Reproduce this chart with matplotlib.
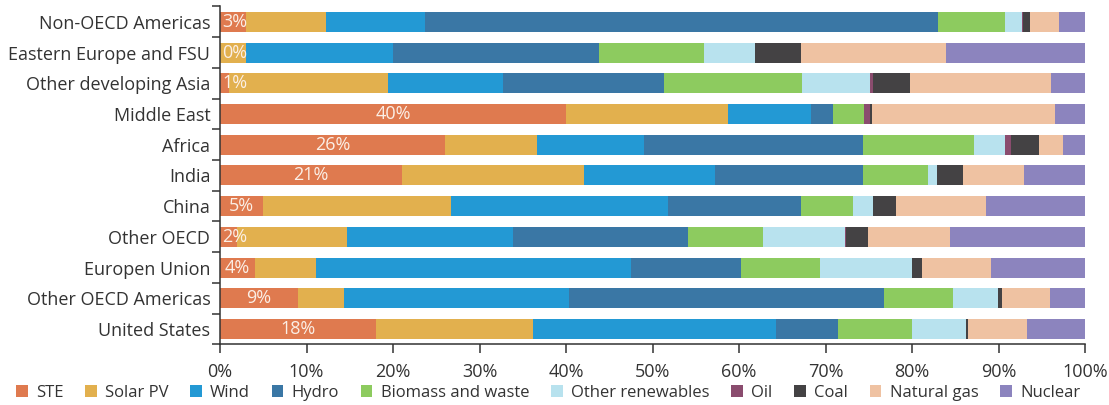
import numpy as np
import matplotlib
matplotlib.use("Agg")
import matplotlib.pyplot as plt
from matplotlib.patches import Patch

plt.rcParams['font.family'] = ['Open Sans', 'DejaVu Sans']

regions = ["Non-OECD Americas", "Eastern Europe and FSU", "Other developing Asia",
           "Middle East", "Africa", "India", "China", "Other OECD",
           "Europen Union", "Other OECD Americas", "United States"]

sources = ["STE", "Solar PV", "Wind", "Hydro", "Biomass and waste",
           "Other renewables", "Oil", "Coal", "Natural gas", "Nuclear"]

# share of each source per region (%), same order as regions
ste       = [3,    0,    1,    40,   26,   21,   5,    2,    4,    9,    18]
solar_pv  = [9.2,  3.0,  18.4, 18.7, 10.6, 21.1, 21.7, 12.7, 7.1,  5.3,  18.2]
wind      = [11.5, 17.0, 13.3, 9.6,  12.4, 15.1, 25.1, 19.2, 36.4, 26.0, 28.1]
hydro     = [59.3, 23.8, 18.6, 2.6,  25.3, 17.1, 15.4, 20.2, 12.7, 36.5, 7.2]
biomass   = [7.8,  12.2, 16.0, 3.5,  12.9, 7.6,  6.0,  8.7,  9.2,  7.9,  8.5]
other_ren = [1.9,  5.9,  7.9,  0.1,  3.6,  1.0,  2.3,  9.5,  10.6, 5.2,  6.3]
oil       = [0.1,  0,    0.3,  0.6,  0.6,  0,    0,    0.1,  0,    0,    0]
coal      = [0.8,  5.3,  4.3,  0.3,  3.3,  3.0,  2.6,  2.5,  1.2,  0.5,  0.2]
gas       = [3.4,  16.7, 16.3, 21.1, 2.7,  7.0,  10.4, 9.5,  7.9,  5.6,  6.8]
nuclear   = [3.0,  16.1, 3.9,  3.5,  2.6,  7.1,  11.5, 15.6, 10.9, 4.0,  6.7]

series = [ste, solar_pv, wind, hydro, biomass, other_ren, oil, coal, gas, nuclear]
colors = ['#DF7A4F', '#E2B04E', '#2399D4', '#3A77A5', '#8DCB5F',
          '#B8E2EE', '#8A4C6E', '#444244', '#EFC2A2', '#8C84BE']

txt = '#333333'

fig = plt.figure(figsize=(11.09, 4.05), dpi=100)
ax = fig.add_axes([220/1109, 1 - 344.3/405, 865/1109, 337.8/405])

y = np.arange(len(regions))
left = np.zeros(len(regions))
for vals, col in zip(series, colors):
    vals = np.array(vals, dtype=float)
    ax.barh(y, vals, left=left, height=0.65, color=col, edgecolor='none')
    left += vals

# STE share written on the first segment
for i, v in enumerate(ste):
    if v >= 4:
        ax.text(v / 2, i, f"{v}%", ha='center', va='center',
                color='#FBEFE6', fontsize=13)
    else:
        ax.text(0.3, i, f"{v}%", ha='left', va='center',
                color='#FBEFE6', fontsize=13)

ax.set_xlim(0, 100)
ax.set_ylim(len(regions) - 0.5, -0.5)
ax.set_xticks(np.arange(0, 101, 10))
ax.set_xticklabels([f"{v}%" for v in range(0, 101, 10)], fontsize=13, color=txt)
ax.set_yticks(y)
ax.set_yticklabels(regions, fontsize=13, color=txt)
ax.set_yticks(np.arange(-0.5, len(regions), 1), minor=True)

ax.tick_params(axis='y', which='major', length=0, pad=7)
ax.tick_params(axis='y', which='minor', length=6, width=1.1, color=txt)
ax.tick_params(axis='x', which='major', length=6.5, width=1.1, color=txt, pad=7)

for s in ['top', 'right']:
    ax.spines[s].set_visible(False)
for s in ['left', 'bottom']:
    ax.spines[s].set_color(txt)
    ax.spines[s].set_linewidth(1.1)

handles = [Patch(facecolor=c, edgecolor='none') for c in colors]
fig.legend(handles, sources, loc='center', bbox_to_anchor=(548/1109, 1 - 393/405),
           ncol=10, frameon=False, fontsize=12, handlelength=0.7, handleheight=0.7,
           handletextpad=0.5, columnspacing=1.3, labelcolor=txt, borderpad=0)

fig.savefig("out.png", dpi=100)
